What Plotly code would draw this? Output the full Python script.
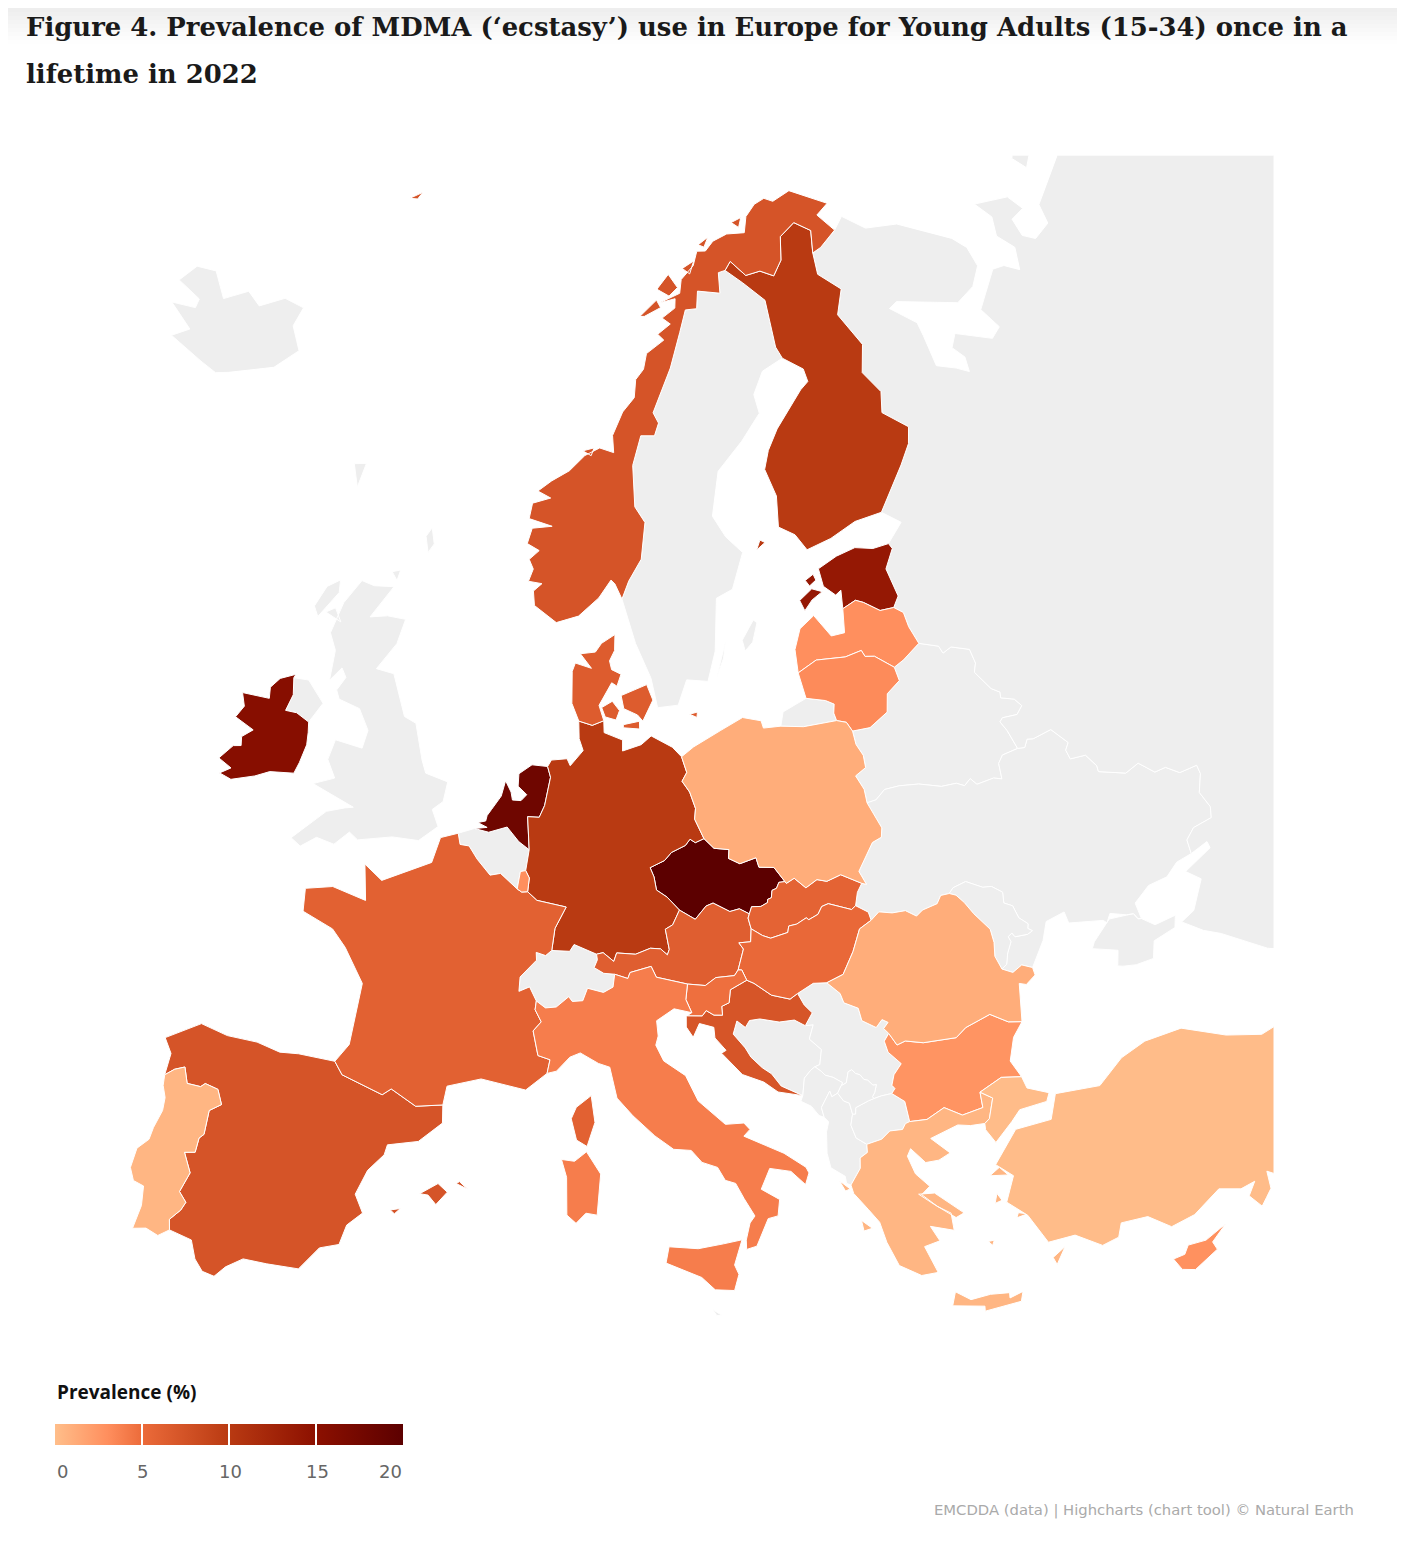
import plotly.graph_objects as go
from plotly.colors import sample_colorscale

W, H = 1405, 1549
PAGE = 8  # the page body has an 8px margin

# countries with data, prevalence in percent
iso_data = ["CZE", "NLD", "IRL", "EST", "DEU", "FIN", "ESP", "NOR", "DNK", "HRV", "FRA", "AUT",
            "SVK", "HUN", "SVN", "ITA", "LUX", "LVA", "LTU", "BGR", "CYP", "POL", "ROU", "PRT",
            "GRC", "TUR"]
prevalence = [20, 18, 15.5, 14, 10, 10, 7.3, 7.3, 6.5, 7.2, 6, 6.3,
              5.8, 5.3, 4.8, 4, 3, 3, 3.2, 2.7, 2.9, 1.1, 1.1, 0.5,
              0.5, 0.1]
iso_nodata = ["GBR", "ISL", "SWE", "BEL", "CHE", "BLR", "UKR", "MDA", "RUS", "BIH", "SRB", "MNE",
              "ALB", "MKD", "XKX", "FRO", "MLT"]
tick_vals = [0, 5, 10, 15, 20]
colour_stops = [[0, "#ffbe8a"], [0.15, "#ff8f5e"], [0.25, "#ec6b3a"], [0.5, "#b93a12"], [0.75, "#8c1000"], [1, "#5c0000"]]

# country outlines, lon/lat
outlines = {
    "DEU": [[[9.92,54.98],[9.94,54.60],[10.95,54.36],[10.94,54.01],[11.96,54.20],[12.52,54.47],[13.65,54.08],[14.12,53.76],[14.35,53.25],[14.07,52.98],[14.44,52.62],[14.69,52.09],[14.61,51.75],[15.02,51.11],[14.57,51.00],[14.31,51.12],[14.06,50.93],[13.34,50.73],[12.97,50.48],[12.24,50.27],[12.42,49.97],[12.52,49.55],[13.03,49.31],[13.60,48.88],[13.24,48.42],[12.88,48.29],[13.03,47.64],[12.93,47.47],[12.62,47.67],[12.14,47.70],[11.43,47.52],[10.54,47.57],[10.40,47.30],[9.90,47.58],[9.59,47.53],[8.52,47.83],[8.32,47.61],[7.47,47.62],[7.59,48.33],[8.10,49.02],[6.66,49.20],[6.19,49.46],[6.24,49.90],[6.04,50.13],[6.16,50.80],[5.99,51.85],[6.59,51.85],[6.84,52.23],[7.09,53.14],[6.91,53.48],[7.10,53.69],[7.94,53.75],[8.12,53.53],[8.80,54.02],[8.57,54.40],[8.53,54.96],[9.28,54.83],[9.92,54.98]]],
    "FRA": [[[3.59,50.38],[4.29,49.91],[4.80,49.99],[5.67,49.53],[5.90,49.44],[6.19,49.46],[6.66,49.20],[8.10,49.02],[7.59,48.33],[7.47,47.62],[7.19,47.45],[6.74,47.54],[6.77,47.29],[6.04,46.73],[6.02,46.27],[6.50,46.43],[6.84,45.99],[6.80,45.71],[7.10,45.33],[6.75,45.03],[7.01,44.25],[7.55,44.13],[7.44,43.69],[6.53,43.13],[4.56,43.40],[3.10,43.08],[2.99,42.47],[1.83,42.34],[0.70,42.80],[0.34,42.58],[-1.50,43.03],[-1.90,43.42],[-1.38,44.02],[-1.19,46.01],[-2.23,47.06],[-2.96,47.57],[-4.49,47.95],[-4.59,48.68],[-3.30,48.90],[-1.62,48.64],[-1.93,49.78],[-0.99,49.35],[1.34,50.13],[1.64,50.95],[2.51,51.15],[2.66,50.80],[3.12,50.78],[3.59,50.38]],
            [[9.56,42.15],[9.23,41.38],[8.78,41.58],[8.54,42.26],[8.75,42.63],[9.39,43.01],[9.56,42.15]]],
    "ESP": [[[-9.03,41.88],[-8.98,42.59],[-9.39,43.03],[-7.98,43.75],[-6.75,43.57],[-5.41,43.57],[-4.35,43.40],[-3.52,43.46],[-1.90,43.42],[-1.50,43.03],[0.34,42.58],[0.70,42.80],[1.83,42.34],[2.99,42.47],[3.04,41.89],[2.09,41.23],[0.81,41.01],[0.72,40.68],[0.11,40.12],[-0.28,39.31],[0.11,38.74],[-0.47,38.29],[-0.68,37.64],[-1.44,37.44],[-2.15,36.67],[-3.42,36.66],[-4.37,36.68],[-5.00,36.32],[-5.38,35.95],[-5.87,36.03],[-6.24,36.37],[-6.52,36.94],[-7.45,37.10],[-7.54,37.43],[-7.17,37.80],[-7.03,38.08],[-7.37,38.37],[-7.10,39.03],[-7.50,39.63],[-7.07,39.71],[-7.03,40.18],[-6.86,40.33],[-6.85,41.11],[-6.39,41.38],[-6.67,41.83],[-7.25,41.92],[-7.42,41.79],[-8.01,41.79],[-8.26,42.28],[-8.67,42.13],[-9.03,41.88]],
            [[2.35,39.57],[3.07,39.95],[3.48,39.70],[3.05,39.27],[2.70,39.55],[2.35,39.57]],
            [[3.82,40.00],[4.30,39.85],[3.95,40.07],[3.82,40.00]],
            [[1.22,38.95],[1.62,39.03],[1.40,38.84],[1.22,38.95]]],
    "PRT": [[[-9.03,41.88],[-8.67,42.13],[-8.26,42.28],[-8.01,41.79],[-7.42,41.79],[-7.25,41.92],[-6.67,41.83],[-6.39,41.38],[-6.85,41.11],[-6.86,40.33],[-7.03,40.18],[-7.07,39.71],[-7.50,39.63],[-7.10,39.03],[-7.37,38.37],[-7.03,38.08],[-7.17,37.80],[-7.54,37.43],[-7.45,37.10],[-7.86,36.84],[-8.38,36.98],[-8.90,36.87],[-8.75,37.65],[-8.84,38.27],[-9.29,38.36],[-9.53,38.74],[-9.45,39.39],[-9.05,39.76],[-8.98,40.16],[-8.77,40.76],[-8.79,41.18],[-8.99,41.54],[-9.03,41.88]]],
    "ITA": [[[10.44,46.89],[11.05,46.75],[11.16,46.94],[12.15,47.12],[12.38,46.77],[13.81,46.51],[13.70,46.02],[13.94,45.59],[13.14,45.74],[12.33,45.38],[12.38,44.89],[12.26,44.60],[12.59,44.09],[13.53,43.59],[14.03,42.76],[15.14,41.96],[15.93,41.96],[16.17,41.74],[15.89,41.54],[16.79,41.18],[17.52,40.88],[18.38,40.36],[18.48,40.17],[18.29,39.81],[17.74,40.28],[16.87,40.44],[16.45,39.80],[17.17,39.42],[17.05,38.90],[16.64,38.84],[16.10,37.99],[15.68,37.91],[15.69,38.21],[15.89,38.75],[16.11,38.96],[15.72,39.54],[15.41,40.05],[14.99,40.17],[14.70,40.60],[14.06,40.79],[13.63,41.19],[12.89,41.25],[12.11,41.70],[11.19,42.36],[10.51,42.93],[10.20,43.92],[9.70,44.04],[8.89,44.37],[8.43,44.23],[7.85,43.77],[7.44,43.69],[7.55,44.13],[7.01,44.25],[6.75,45.03],[7.10,45.33],[6.80,45.71],[6.84,45.99],[7.27,45.78],[7.76,45.82],[8.32,46.16],[8.49,46.01],[8.97,46.04],[9.18,46.44],[9.92,46.31],[10.36,46.48],[10.44,46.89]],
            [[15.52,38.23],[15.16,37.44],[15.31,37.13],[15.10,36.62],[14.34,36.68],[13.83,37.10],[12.43,37.61],[12.57,38.13],[13.74,38.03],[14.76,38.14],[15.52,38.23]],
            [[9.21,41.21],[9.81,40.50],[9.67,39.18],[9.21,39.24],[8.81,38.91],[8.43,39.17],[8.39,40.38],[8.16,40.95],[8.71,40.90],[9.21,41.21]]],
    "GBR": [[[-5.66,54.55],[-6.20,53.87],[-6.95,54.07],[-7.57,54.06],[-7.37,54.60],[-7.57,55.13],[-6.73,55.17],[-5.66,54.55]],
            [[-3.01,58.64],[-4.07,57.55],[-3.06,57.69],[-1.96,57.68],[-2.22,56.87],[-3.12,55.97],[-2.09,55.91],[-1.11,54.62],[-0.43,54.46],[0.18,53.33],[0.47,52.93],[1.68,52.74],[1.56,52.10],[1.05,51.81],[1.45,51.29],[0.55,50.77],[-0.79,50.77],[-2.49,50.50],[-2.96,50.70],[-3.62,50.23],[-4.54,50.34],[-5.25,49.96],[-5.78,50.16],[-4.31,51.21],[-3.41,51.43],[-2.99,51.50],[-5.27,51.99],[-4.22,52.30],[-4.77,52.84],[-4.58,53.50],[-3.09,53.40],[-2.95,53.99],[-3.63,54.62],[-4.84,54.79],[-5.08,55.06],[-4.72,55.51],[-5.05,55.78],[-5.59,55.31],[-5.64,56.28],[-6.15,56.79],[-5.79,57.82],[-5.01,58.63],[-4.21,58.55],[-3.01,58.64]],
            [[-6.30,58.50],[-6.20,58.10],[-7.10,57.20],[-7.45,57.50],[-7.00,58.20],[-6.30,58.50]],
            [[-6.20,57.60],[-5.70,57.20],[-6.70,57.40],[-6.20,57.60]],
            [[-1.30,60.70],[-1.00,60.20],[-1.30,59.90],[-1.60,60.40],[-1.30,60.70]],
            [[-3.30,59.10],[-2.80,59.20],[-2.90,58.85],[-3.30,59.10]]],
    "IRL": [[[-6.20,53.87],[-6.10,53.55],[-6.03,53.15],[-6.20,52.55],[-6.36,52.18],[-7.60,52.05],[-8.30,51.80],[-9.45,51.50],[-10.10,51.60],[-9.60,51.85],[-10.35,52.05],[-9.80,52.55],[-9.40,52.62],[-9.50,52.90],[-9.00,53.20],[-10.10,53.45],[-9.80,53.85],[-10.10,54.25],[-8.60,54.30],[-8.70,54.65],[-8.30,55.00],[-7.50,55.25],[-7.57,55.13],[-7.37,54.60],[-7.57,54.06],[-6.95,54.07],[-6.20,53.87]]],
    "ISL": [[[-14.51,66.46],[-14.74,65.81],[-13.61,65.13],[-14.91,64.36],[-17.79,63.68],[-18.66,63.50],[-19.97,63.64],[-22.76,63.96],[-21.78,64.40],[-23.96,64.89],[-22.18,65.08],[-22.23,65.38],[-24.33,65.61],[-23.65,66.26],[-22.13,66.41],[-20.58,65.73],[-19.06,66.28],[-17.80,65.99],[-16.17,66.53],[-14.51,66.46]]],
    "NOR": [[[28.17,71.19],[31.29,70.45],[30.01,70.19],[31.10,69.56],[29.40,69.16],[28.59,69.06],[29.02,69.77],[27.73,70.16],[26.18,69.83],[25.69,69.09],[24.74,68.65],[23.66,68.89],[22.36,68.84],[21.24,69.37],[20.65,69.11],[20.03,69.07],[19.88,68.41],[17.99,68.57],[17.73,68.01],[16.77,68.01],[16.11,67.30],[15.11,66.19],[13.56,64.79],[13.92,64.45],[13.57,64.05],[12.58,64.07],[11.93,63.13],[11.99,61.80],[12.63,61.29],[12.30,60.12],[11.47,59.43],[11.03,58.86],[10.60,59.35],[10.36,59.47],[9.60,58.90],[8.38,58.31],[7.05,58.08],[5.67,58.59],[5.55,59.05],[6.05,59.30],[5.20,59.35],[5.45,59.75],[5.15,60.05],[5.75,60.35],[4.95,60.55],[5.20,61.05],[6.50,61.15],[4.95,61.35],[5.10,61.85],[6.30,62.05],[5.40,62.25],[6.30,62.60],[7.50,62.95],[8.55,63.45],[9.60,63.70],[10.60,63.55],[10.53,64.10],[11.30,64.85],[12.20,65.30],[12.36,65.88],[13.00,66.20],[13.30,66.70],[14.76,67.10],[14.30,67.30],[15.40,67.60],[14.76,67.81],[15.90,68.10],[16.00,68.40],[14.60,68.30],[16.44,68.56],[16.70,69.00],[17.90,69.40],[18.40,69.85],[19.18,69.82],[20.00,70.10],[21.38,70.26],[23.02,70.20],[23.50,70.70],[24.55,71.03],[25.60,71.15],[26.37,70.99],[28.17,71.19]],
            [[12.90,67.90],[14.40,68.40],[14.70,68.15],[13.30,67.90],[12.90,67.90]],
            [[14.50,68.75],[15.60,69.20],[16.30,68.75],[15.50,68.50],[14.50,68.75]],
            [[16.90,69.35],[18.00,69.55],[17.50,69.15],[16.90,69.35]],
            [[18.60,70.05],[19.60,70.25],[19.10,69.95],[18.60,70.05]],
            [[22.00,70.60],[23.00,70.70],[22.60,70.40],[22.00,70.60]],
            [[8.40,63.60],[9.20,63.70],[9.00,63.45],[8.40,63.60]],
            [[-9.05,70.85],[-8.00,71.15],[-8.30,70.90],[-9.05,70.85]]],
    "SWE": [[[11.03,58.86],[11.47,59.43],[12.30,60.12],[12.63,61.29],[11.99,61.80],[11.93,63.13],[12.58,64.07],[13.57,64.05],[13.92,64.45],[13.56,64.79],[15.11,66.19],[16.11,67.30],[16.77,68.01],[17.73,68.01],[17.99,68.57],[19.88,68.41],[20.03,69.07],[20.65,69.11],[21.98,68.62],[23.54,67.94],[23.57,66.40],[23.90,66.01],[22.18,65.72],[21.21,65.03],[21.37,64.41],[19.78,63.61],[17.85,62.75],[17.12,61.34],[17.83,60.64],[18.79,60.08],[17.87,58.95],[16.83,58.72],[16.45,57.04],[15.88,56.10],[14.67,56.20],[14.10,55.41],[12.94,55.36],[12.63,56.31],[11.79,57.44],[11.03,58.86]],
            [[18.10,57.30],[18.90,57.90],[19.10,57.80],[18.70,57.20],[18.20,56.95],[18.10,57.30]],
            [[16.40,56.20],[17.10,57.30],[16.90,56.80],[16.40,56.20]]],
    "FIN": [[[28.59,69.06],[28.45,68.36],[29.98,67.70],[29.05,66.94],[30.22,65.81],[29.54,64.95],[30.44,64.20],[30.04,63.55],[31.52,62.87],[31.14,62.36],[30.21,61.78],[28.07,60.50],[26.26,60.42],[24.50,60.06],[22.87,59.85],[22.29,60.39],[21.32,60.72],[21.54,61.71],[21.06,62.61],[21.54,63.19],[22.44,63.82],[24.73,64.90],[25.40,65.11],[25.29,65.53],[23.90,66.01],[23.57,66.40],[23.54,67.94],[21.98,68.62],[20.65,69.11],[21.24,69.37],[22.36,68.84],[23.66,68.89],[24.74,68.65],[25.69,69.09],[26.18,69.83],[27.73,70.16],[29.02,69.77],[28.59,69.06]],
            [[19.70,60.10],[20.30,60.30],[20.00,60.40],[19.70,60.10]]],
    "DNK": [[[10.91,56.46],[10.67,56.08],[10.37,56.19],[9.65,55.47],[9.92,54.98],[9.28,54.83],[8.53,54.96],[8.12,55.52],[8.09,56.54],[8.26,56.81],[9.20,56.65],[8.54,57.11],[9.42,57.17],[9.78,57.45],[10.58,57.73],[10.55,57.22],[10.25,56.89],[10.37,56.61],[10.91,56.46]],
            [[12.69,55.61],[12.09,54.95],[11.80,55.15],[11.04,55.36],[10.90,55.78],[12.37,56.11],[12.69,55.61]],
            [[9.80,55.40],[10.40,55.60],[10.80,55.30],[10.60,55.00],[10.00,55.10],[9.80,55.40]],
            [[11.00,54.85],[11.90,54.95],[11.90,54.70],[11.00,54.75],[11.00,54.85]],
            [[14.70,55.10],[15.15,55.15],[15.10,54.98],[14.70,55.10]]],
    "NLD": [[[6.91,53.48],[7.09,53.14],[6.84,52.23],[6.59,51.85],[5.99,51.85],[6.16,50.80],[5.61,51.04],[4.97,51.48],[4.05,51.27],[3.31,51.35],[3.95,51.42],[3.45,51.55],[3.85,51.62],[3.90,51.80],[4.10,52.00],[4.55,52.45],[4.72,52.95],[5.05,52.60],[5.15,52.35],[5.60,52.35],[5.88,52.55],[5.40,52.80],[5.40,53.20],[6.07,53.51],[6.91,53.48]]],
    "BEL": [[[3.31,51.35],[4.05,51.27],[4.97,51.48],[5.61,51.04],[6.16,50.80],[6.04,50.13],[5.78,50.09],[5.67,49.53],[4.80,49.99],[4.29,49.91],[3.59,50.38],[3.12,50.78],[2.66,50.80],[2.51,51.15],[3.31,51.35]]],
    "LUX": [[[6.04,50.13],[6.24,49.90],[6.19,49.46],[5.90,49.44],[5.67,49.53],[5.78,50.09],[6.04,50.13]]],
    "CHE": [[[9.59,47.53],[9.63,47.35],[9.48,47.10],[9.93,46.92],[10.44,46.89],[10.36,46.48],[9.92,46.31],[9.18,46.44],[8.97,46.04],[8.49,46.01],[8.32,46.16],[7.76,45.82],[7.27,45.78],[6.84,45.99],[6.50,46.43],[6.02,46.27],[6.04,46.73],[6.77,47.29],[6.74,47.54],[7.19,47.45],[7.47,47.62],[8.32,47.61],[8.52,47.83],[9.59,47.53]]],
    "AUT": [[[16.98,48.12],[16.90,47.71],[16.34,47.71],[16.53,47.50],[16.20,46.85],[16.01,46.68],[15.14,46.66],[14.63,46.43],[13.81,46.51],[12.38,46.77],[12.15,47.12],[11.16,46.94],[11.05,46.75],[10.44,46.89],[9.93,46.92],[9.48,47.10],[9.63,47.35],[9.59,47.53],[9.90,47.58],[10.40,47.30],[10.54,47.57],[11.43,47.52],[12.14,47.70],[12.62,47.67],[12.93,47.47],[13.03,47.64],[12.88,48.29],[13.24,48.42],[13.60,48.88],[14.34,48.56],[14.90,48.96],[15.25,49.04],[16.03,48.73],[16.50,48.79],[16.96,48.60],[16.88,48.47],[16.98,48.12]]],
    "CZE": [[[16.96,48.60],[16.50,48.79],[16.03,48.73],[15.25,49.04],[14.90,48.96],[14.34,48.56],[13.60,48.88],[13.03,49.31],[12.52,49.55],[12.42,49.97],[12.24,50.27],[12.97,50.48],[13.34,50.73],[14.06,50.93],[14.31,51.12],[14.57,51.00],[15.02,51.11],[15.49,50.78],[16.24,50.70],[16.18,50.42],[16.72,50.22],[17.55,50.36],[17.65,50.05],[18.39,49.99],[18.85,49.50],[18.55,49.50],[18.40,49.32],[18.17,49.27],[18.10,49.04],[17.91,49.00],[17.89,48.90],[17.55,48.80],[17.10,48.82],[16.96,48.60]]],
    "POL": [[[15.02,51.11],[14.61,51.75],[14.69,52.09],[14.44,52.62],[14.07,52.98],[14.35,53.25],[14.12,53.76],[14.80,54.05],[16.36,54.51],[17.62,54.85],[18.62,54.68],[18.70,54.44],[19.66,54.43],[20.89,54.31],[22.73,54.33],[23.24,54.22],[23.48,53.91],[23.53,53.47],[23.80,53.09],[23.80,52.69],[23.20,52.49],[23.51,52.02],[23.53,51.58],[24.03,50.71],[23.92,50.42],[23.43,50.31],[22.52,49.48],[22.78,49.03],[22.56,49.09],[21.61,49.47],[20.89,49.33],[20.42,49.43],[19.83,49.22],[19.32,49.57],[18.91,49.44],[18.85,49.50],[18.39,49.99],[17.65,50.05],[17.55,50.36],[16.72,50.22],[16.18,50.42],[16.24,50.70],[15.49,50.78],[15.02,51.11]]],
    "SVK": [[[18.85,49.50],[18.91,49.44],[19.32,49.57],[19.83,49.22],[20.42,49.43],[20.89,49.33],[21.61,49.47],[22.56,49.09],[22.28,48.83],[22.09,48.42],[21.87,48.32],[20.80,48.62],[20.47,48.56],[20.24,48.33],[19.77,48.20],[19.66,48.27],[19.17,48.11],[18.78,48.08],[18.70,47.88],[17.86,47.76],[17.49,47.87],[16.98,48.12],[16.88,48.47],[16.96,48.60],[17.10,48.82],[17.55,48.80],[17.89,48.90],[17.91,49.00],[18.10,49.04],[18.17,49.27],[18.40,49.32],[18.55,49.50],[18.85,49.50]]],
    "HUN": [[[16.20,46.85],[16.53,47.50],[16.34,47.71],[16.90,47.71],[16.98,48.12],[17.49,47.87],[17.86,47.76],[18.70,47.88],[18.78,48.08],[19.17,48.11],[19.66,48.27],[19.77,48.20],[20.24,48.33],[20.47,48.56],[20.80,48.62],[21.87,48.32],[22.09,48.42],[22.64,48.15],[22.71,47.88],[22.10,47.67],[21.63,46.99],[21.02,46.32],[20.22,46.13],[19.60,46.17],[18.83,45.91],[18.46,45.76],[17.63,45.95],[16.88,46.38],[16.56,46.50],[16.37,46.84],[16.20,46.85]]],
    "SVN": [[[13.81,46.51],[14.63,46.43],[15.14,46.66],[16.01,46.68],[16.20,46.85],[16.37,46.84],[16.56,46.50],[15.77,46.24],[15.67,45.83],[15.32,45.73],[15.33,45.45],[14.94,45.47],[14.60,45.63],[14.41,45.47],[13.72,45.50],[13.94,45.59],[13.70,46.02],[13.81,46.51]]],
    "HRV": [[[18.83,45.91],[19.07,45.52],[19.39,45.24],[19.01,44.86],[18.55,45.08],[17.86,45.07],[17.00,45.23],[16.53,45.21],[16.32,45.00],[15.96,45.23],[15.75,44.82],[16.24,44.35],[16.46,44.04],[16.92,43.67],[17.30,43.45],[17.67,43.03],[18.56,42.65],[17.51,42.85],[16.93,43.21],[16.02,43.51],[15.17,44.24],[15.38,44.32],[14.92,44.74],[14.90,45.08],[14.26,45.23],[13.95,44.80],[13.66,45.14],[13.68,45.48],[13.72,45.50],[14.41,45.47],[14.60,45.63],[14.94,45.47],[15.33,45.45],[15.32,45.73],[15.67,45.83],[15.77,46.24],[16.56,46.50],[16.88,46.38],[17.63,45.95],[18.46,45.76],[18.83,45.91]]],
    "BIH": [[[19.01,44.86],[19.37,44.86],[19.12,44.42],[19.60,44.04],[19.45,43.57],[19.22,43.52],[19.03,43.43],[18.71,43.20],[18.56,42.65],[17.67,43.03],[17.30,43.45],[16.92,43.67],[16.46,44.04],[16.24,44.35],[15.75,44.82],[15.96,45.23],[16.32,45.00],[16.53,45.21],[17.00,45.23],[17.86,45.07],[18.55,45.08],[19.01,44.86]]],
    "SRB": [[[20.87,45.42],[21.48,45.18],[21.56,44.77],[22.15,44.48],[22.46,44.70],[22.71,44.58],[22.47,44.41],[22.66,44.23],[22.41,44.01],[22.50,43.64],[22.99,43.21],[22.60,42.90],[22.44,42.58],[22.55,42.46],[22.38,42.32],[21.92,42.30],[21.58,42.25],[21.54,42.32],[21.66,42.44],[21.78,42.68],[21.63,42.68],[21.44,42.86],[21.27,42.91],[21.14,43.07],[20.96,43.13],[20.81,43.27],[20.64,43.22],[20.50,42.88],[20.26,42.81],[20.34,42.90],[19.96,43.11],[19.63,43.21],[19.48,43.35],[19.22,43.52],[19.45,43.57],[19.60,44.04],[19.12,44.42],[19.37,44.86],[19.01,44.86],[19.39,45.24],[19.07,45.52],[18.83,45.91],[19.60,46.17],[20.22,46.13],[20.76,45.73],[20.87,45.42]]],
    "XKX": [[[20.76,42.05],[20.72,41.85],[20.59,41.86],[20.52,42.22],[20.28,42.32],[20.07,42.59],[20.26,42.81],[20.50,42.88],[20.64,43.22],[20.81,43.27],[20.96,43.13],[21.14,43.07],[21.27,42.91],[21.44,42.86],[21.63,42.68],[21.78,42.68],[21.66,42.44],[21.54,42.32],[21.58,42.25],[21.35,42.21],[20.76,42.05]]],
    "MNE": [[[19.80,42.50],[19.74,42.69],[19.30,42.20],[19.37,41.88],[19.16,41.96],[18.88,42.28],[18.45,42.48],[18.56,42.65],[18.71,43.20],[19.03,43.43],[19.22,43.52],[19.48,43.35],[19.63,43.21],[19.96,43.11],[20.34,42.90],[20.26,42.81],[20.07,42.59],[19.80,42.50]]],
    "ALB": [[[20.59,41.86],[20.46,41.52],[20.61,41.09],[21.02,40.84],[21.00,40.58],[20.67,40.44],[20.62,40.11],[20.15,39.62],[19.98,39.69],[19.96,39.92],[19.41,40.25],[19.32,40.73],[19.40,41.41],[19.54,41.72],[19.37,41.88],[19.30,42.20],[19.74,42.69],[19.80,42.50],[20.07,42.59],[20.28,42.32],[20.52,42.22],[20.59,41.86]]],
    "MKD": [[[20.59,41.86],[20.72,41.85],[20.76,42.05],[21.35,42.21],[21.58,42.25],[21.92,42.30],[22.38,42.32],[22.88,42.00],[22.95,41.34],[22.76,41.30],[22.60,41.13],[22.06,41.15],[21.67,40.93],[21.02,40.84],[20.61,41.09],[20.46,41.52],[20.59,41.86]]],
    "ROU": [[[22.71,47.88],[23.14,48.10],[23.76,47.99],[24.40,47.98],[24.87,47.74],[25.21,47.89],[25.95,47.99],[26.20,48.22],[26.62,48.22],[26.92,48.12],[27.23,47.83],[27.55,47.41],[28.13,46.81],[28.16,46.37],[28.05,45.94],[28.23,45.49],[28.68,45.30],[29.15,45.46],[29.60,45.29],[29.63,45.04],[29.14,44.82],[28.84,44.91],[28.56,43.71],[27.97,43.81],[27.24,44.18],[26.07,43.94],[25.57,43.69],[24.10,43.74],[23.33,43.90],[22.94,43.82],[22.66,44.23],[22.47,44.41],[22.71,44.58],[22.46,44.70],[22.15,44.48],[21.56,44.77],[21.48,45.18],[20.87,45.42],[20.76,45.73],[20.22,46.13],[21.02,46.32],[21.63,46.99],[22.10,47.67],[22.71,47.88]]],
    "BGR": [[[22.66,44.23],[22.94,43.82],[23.33,43.90],[24.10,43.74],[25.57,43.69],[26.07,43.94],[27.24,44.18],[27.97,43.81],[28.56,43.71],[28.04,43.29],[27.67,42.58],[28.00,42.01],[27.14,42.14],[26.12,41.83],[26.11,41.33],[25.20,41.23],[24.49,41.58],[23.69,41.31],[22.95,41.34],[22.88,42.00],[22.38,42.32],[22.55,42.46],[22.44,42.58],[22.60,42.90],[22.99,43.21],[22.50,43.64],[22.41,44.01],[22.66,44.23]]],
    "GRC": [[[22.95,41.34],[23.69,41.31],[24.49,41.58],[25.20,41.23],[26.11,41.33],[26.12,41.83],[26.60,41.56],[26.29,40.94],[26.06,40.82],[25.45,40.85],[24.93,40.95],[23.71,40.69],[24.41,40.12],[23.90,39.96],[23.34,39.96],[22.81,40.48],[22.63,40.26],[22.85,39.66],[23.35,39.19],[22.97,38.97],[23.53,38.51],[24.03,38.22],[24.04,37.66],[23.12,37.92],[23.41,37.41],[22.77,37.31],[23.15,36.42],[22.49,36.41],[21.67,36.84],[21.30,37.64],[21.12,38.31],[20.73,38.77],[20.22,39.34],[20.15,39.62],[20.62,40.11],[20.67,40.44],[21.00,40.58],[21.02,40.84],[21.67,40.93],[22.06,41.15],[22.60,41.13],[22.76,41.30],[22.95,41.34]],
            [[26.29,35.30],[26.16,35.00],[24.72,34.92],[24.74,35.08],[23.51,35.28],[23.70,35.71],[24.25,35.37],[25.03,35.42],[25.77,35.35],[25.75,35.18],[26.29,35.30]],
            [[22.85,39.00],[23.50,38.95],[24.55,38.15],[24.20,38.05],[23.40,38.60],[22.85,39.00]],
            [[26.30,39.35],[26.60,39.05],[25.85,39.15],[26.30,39.35]],
            [[26.00,38.55],[26.15,38.30],[25.85,38.25],[26.00,38.55]],
            [[27.70,36.15],[28.25,36.40],[27.80,35.90],[27.70,36.15]],
            [[19.70,39.80],[20.10,39.50],[19.90,39.45],[19.70,39.80]],
            [[20.40,38.45],[20.80,38.15],[20.45,38.10],[20.40,38.45]],
            [[25.30,37.10],[25.55,37.10],[25.45,36.95],[25.30,37.10]],
            [[26.70,37.80],[27.05,37.70],[26.60,37.65],[26.70,37.80]]],
    "TUR": [[[36.91,41.34],[38.35,40.95],[39.51,41.10],[40.37,41.01],[41.55,41.54],[42.62,41.58],[43.58,41.09],[43.75,40.74],[43.66,40.25],[44.40,40.01],[44.79,39.71],[44.11,39.43],[44.42,38.28],[44.23,37.97],[44.77,37.17],[44.29,37.00],[43.94,37.26],[42.78,37.39],[42.35,37.23],[41.21,37.07],[40.67,37.09],[39.52,36.72],[38.70,36.71],[38.17,36.90],[37.07,36.62],[36.74,36.82],[36.69,36.26],[36.42,36.04],[36.15,35.82],[35.78,36.27],[36.16,36.65],[35.55,36.57],[34.71,36.80],[33.51,36.26],[32.51,36.11],[31.70,36.64],[30.62,36.68],[30.39,36.26],[29.70,36.14],[28.73,36.68],[27.64,36.66],[27.05,37.65],[26.32,38.21],[26.80,38.99],[26.17,39.46],[27.28,40.42],[28.82,40.46],[29.24,41.22],[31.15,41.09],[32.35,41.74],[33.51,42.02],[35.17,42.04],[36.91,41.34]],
            [[26.06,40.82],[26.29,40.94],[26.60,41.56],[26.12,41.83],[27.14,42.14],[28.00,42.01],[28.12,41.62],[28.99,41.30],[28.81,41.05],[27.62,41.00],[27.19,40.69],[26.36,40.15],[26.04,40.62],[26.06,40.82]]],
    "CYP": [[[33.97,35.06],[34.00,34.98],[32.98,34.57],[32.49,34.70],[32.26,35.10],[32.73,35.14],[32.95,35.39],[33.67,35.37],[34.58,35.67],[33.90,35.25],[33.97,35.06]]],
    "EST": [[[27.98,59.48],[28.13,59.30],[27.42,58.72],[27.72,57.79],[27.29,57.47],[26.46,57.48],[25.60,57.85],[25.16,57.97],[24.31,57.79],[24.43,58.38],[24.06,58.26],[23.43,58.61],[23.34,59.19],[24.60,59.47],[25.86,59.61],[26.95,59.45],[27.98,59.48]],
            [[21.85,58.30],[22.70,58.60],[23.30,58.45],[22.60,58.25],[22.05,57.95],[21.85,58.30]],
            [[22.40,58.90],[22.95,59.05],[23.05,58.85],[22.60,58.70],[22.40,58.90]]],
    "LVA": [[[21.06,56.03],[21.09,56.78],[21.58,57.41],[22.52,57.75],[23.32,57.01],[24.12,57.03],[24.31,57.79],[25.16,57.97],[25.60,57.85],[26.46,57.48],[27.29,57.47],[27.77,57.24],[27.86,56.76],[28.18,56.17],[27.10,55.78],[26.49,55.62],[25.53,56.10],[25.00,56.16],[24.86,56.37],[23.88,56.27],[22.20,56.34],[21.06,56.03]]],
    "LTU": [[[22.73,54.33],[22.65,54.58],[22.76,54.86],[22.32,55.02],[21.27,55.19],[21.06,56.03],[22.20,56.34],[23.88,56.27],[24.86,56.37],[25.00,56.16],[25.53,56.10],[26.49,55.62],[26.59,55.17],[25.77,54.85],[25.54,54.28],[24.45,53.91],[23.48,53.91],[23.24,54.22],[22.73,54.33]]],
    "BLR": [[[23.48,53.91],[24.45,53.91],[25.54,54.28],[25.77,54.85],[26.59,55.17],[26.49,55.62],[27.10,55.78],[28.18,56.17],[29.23,55.92],[29.37,55.67],[29.90,55.79],[30.87,55.55],[30.97,55.08],[30.76,54.81],[31.38,54.16],[31.79,53.97],[31.73,53.79],[32.41,53.62],[32.69,53.35],[32.30,53.13],[31.50,53.17],[31.31,53.07],[31.54,52.74],[31.79,52.10],[30.93,52.04],[30.62,51.82],[30.56,51.32],[30.16,51.42],[29.25,51.37],[28.99,51.60],[28.62,51.43],[28.24,51.57],[27.45,51.59],[26.34,51.83],[25.33,51.91],[24.55,51.89],[24.01,51.62],[23.53,51.58],[23.51,52.02],[23.20,52.49],[23.80,52.69],[23.80,53.09],[23.53,53.47],[23.48,53.91]]],
    "UKR": [[[31.79,52.10],[32.16,52.06],[32.41,52.29],[32.72,52.24],[33.75,52.34],[34.39,51.77],[34.14,51.57],[34.22,51.26],[35.02,51.21],[35.38,50.77],[35.36,50.58],[36.63,50.23],[37.39,50.38],[38.01,49.92],[38.59,49.93],[39.15,49.60],[39.67,49.60],[40.07,49.60],[40.08,49.31],[39.67,48.78],[39.90,48.23],[39.74,47.90],[38.77,47.83],[38.26,47.55],[38.22,47.10],[37.43,47.02],[36.76,46.70],[35.82,46.65],[34.96,46.27],[35.01,45.74],[34.86,45.77],[34.73,45.97],[34.41,46.01],[33.70,46.22],[33.44,45.97],[33.30,46.08],[31.74,46.33],[31.68,46.71],[30.75,46.58],[30.38,46.03],[29.60,45.29],[29.15,45.46],[28.68,45.30],[28.23,45.49],[28.49,45.60],[28.66,45.94],[28.93,46.26],[28.86,46.44],[29.07,46.52],[29.17,46.38],[29.76,46.35],[30.02,46.42],[29.84,46.53],[29.91,46.67],[29.56,46.93],[29.42,47.35],[29.05,47.51],[29.12,47.85],[28.67,48.12],[28.26,48.16],[27.52,48.47],[26.86,48.37],[26.62,48.22],[26.20,48.22],[25.95,47.99],[25.21,47.89],[24.87,47.74],[24.40,47.98],[23.76,47.99],[23.14,48.10],[22.71,47.88],[22.64,48.15],[22.09,48.42],[22.28,48.83],[22.56,49.09],[22.78,49.03],[22.52,49.48],[23.43,50.31],[23.92,50.42],[24.03,50.71],[23.53,51.58],[24.01,51.62],[24.55,51.89],[25.33,51.91],[26.34,51.83],[27.45,51.59],[28.24,51.57],[28.62,51.43],[28.99,51.60],[29.25,51.37],[30.16,51.42],[30.56,51.32],[30.62,51.82],[30.93,52.04],[31.79,52.10]],
            [[33.59,46.06],[34.41,46.00],[34.73,45.97],[34.86,45.77],[35.01,45.74],[35.51,45.41],[36.53,45.47],[36.33,45.11],[35.24,44.94],[34.96,44.42],[34.14,44.41],[33.55,44.50],[33.33,44.56],[33.55,45.03],[32.45,45.33],[32.63,45.52],[33.59,46.06]]],
    "MDA": [[[26.62,48.22],[26.86,48.37],[27.52,48.47],[28.26,48.16],[28.67,48.12],[29.12,47.85],[29.05,47.51],[29.42,47.35],[29.56,46.93],[29.91,46.67],[29.84,46.53],[30.02,46.42],[29.76,46.35],[29.17,46.38],[29.07,46.52],[28.86,46.44],[28.93,46.26],[28.66,45.94],[28.49,45.60],[28.23,45.49],[28.05,45.94],[28.16,46.37],[28.13,46.81],[27.55,47.41],[27.23,47.83],[26.92,48.12],[26.62,48.22]]],
    "RUS": [[[31.10,69.56],[32.13,69.91],[33.78,69.30],[36.51,69.06],[40.29,67.93],[41.06,67.46],[41.13,66.79],[40.02,66.27],[38.38,66.00],[33.92,66.76],[33.18,66.63],[34.81,65.90],[34.88,65.44],[34.94,64.41],[36.23,64.11],[37.01,63.85],[37.14,64.33],[36.54,64.76],[37.18,65.14],[39.59,64.52],[40.44,64.76],[39.76,65.50],[42.09,66.48],[43.02,66.42],[43.95,66.07],[44.53,66.76],[43.70,67.35],[44.19,67.95],[43.45,68.57],[46.25,68.25],[46.82,67.69],[45.56,67.57],[45.56,66.97],[46.35,66.67],[47.89,66.88],[48.14,67.52],[53.72,68.86],[80.00,72.00],[85.00,42.00],[48.00,42.00],[41.00,43.00],[39.90,43.40],[38.20,44.40],[37.50,44.70],[36.70,45.20],[37.40,45.40],[38.23,46.24],[37.67,46.64],[39.15,47.04],[39.12,47.26],[38.22,47.10],[38.26,47.55],[38.77,47.83],[39.74,47.90],[39.90,48.23],[39.67,48.78],[40.08,49.31],[40.07,49.60],[39.67,49.60],[39.15,49.60],[38.59,49.93],[38.01,49.92],[37.39,50.38],[36.63,50.23],[35.36,50.58],[35.38,50.77],[35.02,51.21],[34.22,51.26],[34.14,51.57],[34.39,51.77],[33.75,52.34],[32.72,52.24],[32.41,52.29],[32.16,52.06],[31.79,52.10],[31.54,52.74],[31.31,53.07],[31.50,53.17],[32.30,53.13],[32.69,53.35],[32.41,53.62],[31.73,53.79],[31.79,53.97],[31.38,54.16],[30.76,54.81],[30.97,55.08],[30.87,55.55],[29.90,55.79],[29.37,55.67],[29.23,55.92],[28.18,56.17],[27.86,56.76],[27.77,57.24],[27.29,57.47],[27.72,57.79],[27.42,58.72],[28.13,59.30],[27.98,59.48],[29.12,60.03],[28.07,60.50],[30.21,61.78],[31.14,62.36],[31.52,62.87],[30.04,63.55],[30.44,64.20],[29.54,64.95],[30.22,65.81],[29.05,66.94],[29.98,67.70],[28.45,68.36],[28.59,69.06],[29.40,69.16],[31.10,69.56]],
            [[22.73,54.33],[20.89,54.31],[19.66,54.43],[19.89,54.87],[21.27,55.19],[22.32,55.02],[22.76,54.86],[22.65,54.58],[22.73,54.33]],
            [[48.50,69.20],[49.30,69.50],[50.30,69.10],[49.10,68.70],[48.50,69.20]]],
    "FRO": [[[-7.30,62.20],[-6.50,62.30],[-6.70,61.50],[-7.30,62.20]]],
    "MLT": [[[14.20,36.05],[14.55,35.85],[14.35,35.85],[14.20,36.05]]],
}


def clockwise(ring):
    # d3-geo wants the outer ring clockwise
    area = sum(a[0] * b[1] - b[0] * a[1] for a, b in zip(ring, ring[1:]))
    return ring[::-1] if area > 0 else ring


def country_trace(code, colour):
    lons, lats = [], []
    for ring in outlines[code]:
        ring = clockwise(ring)
        lons += [p[0] for p in ring] + [None]
        lats += [p[1] for p in ring] + [None]
    return go.Scattergeo(lon=lons[:-1], lat=lats[:-1], mode="lines", fill="toself", fillcolor=colour,
                         line=dict(color="white", width=1), name=code, showlegend=False, hoverinfo="name")


def px(x):
    return (x - PAGE) / (W - 2 * PAGE)


def py(y):
    return 1 - (y - PAGE) / (H - 2 * PAGE)


fig = go.Figure()
for code in iso_nodata:
    fig.add_trace(country_trace(code, "#eeeeee"))
for code, colour in zip(iso_data, sample_colorscale(colour_stops, [v / 20 for v in prevalence])):
    fig.add_trace(country_trace(code, colour))

# invisible marker trace, only there to carry the colour bar
fig.add_trace(go.Scattergeo(
    lon=[10, 10], lat=[52, 52], mode="markers", showlegend=False, hoverinfo="skip",
    marker=dict(size=0.1, opacity=0, color=[0, 20], cmin=0, cmax=20, colorscale=colour_stops, showscale=True,
                colorbar=dict(orientation="h", x=px(55), xanchor="left", y=py(1466), yanchor="bottom",
                              len=348, lenmode="pixels", thickness=21, thicknessmode="pixels",
                              xpad=0, ypad=0, outlinewidth=0, tickvals=tick_vals, showticklabels=False,
                              ticks="inside", ticklen=21, tickwidth=2, tickcolor="white"))))

# the range box only sets the clip frame, scale and center place the map in it
fig.update_geos(
    visible=False, bgcolor="rgba(0,0,0,0)",
    domain=dict(x=[px(100), px(1274)], y=[py(1327), py(152)]),
    projection=dict(type="azimuthal equal area", rotation=dict(lon=10, lat=52), scale=0.377),
    center=dict(lon=12.61, lat=54.38),
    lonaxis=dict(range=[0, 20]), lataxis=dict(range=[45, 58.7]))


def note(text, x, y, anchor, family, size, colour):
    return dict(text=text, x=px(x), y=py(y), xref="paper", yref="paper", xanchor=anchor, yanchor="middle",
                showarrow=False, font=dict(family=family, size=size, color=colour))


notes = [
    note("<b>Figure 4. Prevalence of MDMA (‘ecstasy’) use in Europe for Young Adults (15-34) once in a</b>",
         24, 27, "left", "DejaVu Serif", 25.9, "#1a1a1a"),
    note("<b>lifetime in 2022</b>", 24, 74, "left", "DejaVu Serif", 25.9, "#1a1a1a"),
    note("<b>Prevalence (%)</b>", 55, 1392, "left", "Open Sans", 19, "#111111"),
    note("EMCDDA (data) | Highcharts (chart tool) © Natural Earth", 1356, 1510, "right", "DejaVu Sans", 14.8, "#aaaaaa"),
]
for val, x in zip(tick_vals, [62, 142, 230, 317, 390]):
    notes.append(note(str(val), x, 1471, "center", "DejaVu Sans", 18, "#666666"))

# soft shadow under the top edge of the page
top_fade = [dict(type="rect", xref="paper", yref="paper", x0=0, x1=1, y0=py(8 + 4 * i + 4), y1=py(8 + 4 * i),
                 fillcolor="rgb({0},{0},{0})".format(238 + i * 2), line_width=0, layer="below")
            for i in range(9)]

fig.update_layout(width=W - 2 * PAGE, height=H - 2 * PAGE, margin=dict(l=0, r=0, t=0, b=0),
                  paper_bgcolor="white", annotations=notes, shapes=top_fade)

fig.write_html("out.html")
